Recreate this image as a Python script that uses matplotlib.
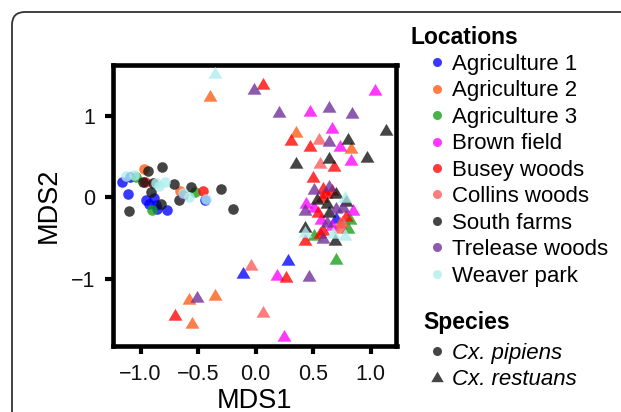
import matplotlib
matplotlib.use("Agg")
import matplotlib.pyplot as plt
from matplotlib.lines import Line2D
from matplotlib.patches import FancyBboxPatch
from matplotlib.path import Path

plt.rcParams['font.family'] = ['Liberation Sans', 'DejaVu Sans']

locations = ["Agriculture 1", "Agriculture 2", "Agriculture 3", "Brown field",
             "Busey woods", "Collins woods", "South farms", "Trelease woods", "Weaver park"]
colors = ["#0000FF", "#FF5A14", "#169E16", "#FF00FF", "#FF0000",
          "#FA5A5A", "#111111", "#6E2C96", "#AFEEEE"]
species = ["Cx. pipiens", "Cx. restuans"]

# MDS coordinates per location: pipiens (circles)
pip_x = {
    "Agriculture 1": [-1.16, -1.09, -1.11, -0.44, -0.95, -0.88, -0.93, -0.87, -0.77, -0.855],
    "Agriculture 2": [-0.97, -0.66],
    "Agriculture 3": [-1.04, -0.53, -0.90],
    "Brown field": [],
    "Busey woods": [-0.96, -0.46],
    "Collins woods": [],
    "South farms": [-0.81, -0.94, -0.98, -0.895, -0.71, -0.56, -0.91, -0.30, -0.67, -0.82, -1.10, -0.20],
    "Trelease woods": [-0.63],
    "Weaver park": [-1.13, -1.055, -0.865, -0.84, -0.79, -0.63, -0.575, -0.43],
}
pip_y = {
    "Agriculture 1": [0.19, 0.25, 0.04, -0.03, -0.03, -0.01, -0.08, -0.09, -0.15, -0.14],
    "Agriculture 2": [0.35, 0.08],
    "Agriculture 3": [0.25, 0.06, -0.15],
    "Brown field": [],
    "Busey woods": [0.19, 0.08],
    "Collins woods": [],
    "South farms": [0.37, 0.32, 0.19, 0.17, 0.16, 0.13, 0.07, 0.10, -0.03, -0.08, -0.17, -0.14],
    "Trelease woods": [0.03],
    "Weaver park": [0.26, 0.27, 0.17, 0.14, 0.19, 0.05, 0.01, -0.02],
}
# restuans (triangles)
res_x = {
    "Agriculture 1": [0.28, -0.11, 0.70],
    "Agriculture 2": [-0.40, 0.355, 0.83, -0.58, -0.35, -0.55, 0.73],
    "Agriculture 3": [0.70, 0.82, 0.80, 0.51],
    "Brown field": [1.04, 0.47, 0.66, 0.73, 0.83, 0.44, 0.51, 0.85, 0.57, 0.66, 0.19, 0.25],
    "Busey woods": [0.064, 0.305, 0.47, 0.68, 0.50, 0.59, 0.66, 0.61, 0.58, 0.54, 0.785, 0.59, 0.56, 0.43, 0.26, -0.70],
    "Collins woods": [0.55, 0.56, 0.75, 0.73, -0.04, 0.064],
    "South farms": [1.13, 0.80, 0.64, 0.965, 0.35, 0.70, 0.53, 0.62, 0.79, 0.64, 0.43, 0.69],
    "Trelease woods": [-0.015, 0.20, 0.64, 0.84, 0.64, 0.51, 0.64, 0.43, 0.76, 0.70, 0.62, 0.59, -0.51, 0.46],
    "Weaver park": [-0.355, 0.78, 0.43, 0.67, 0.78],
}
res_y = {
    "Agriculture 1": [-0.77, -0.93, -0.25],
    "Agriculture 2": [1.24, 0.80, 0.60, -1.24, -1.20, -1.54, -0.32],
    "Agriculture 3": [-0.75, -0.26, -0.37, -0.46],
    "Brown field": [1.32, 1.06, 0.85, 0.63, 0.46, -0.07, -0.12, -0.16, -0.26, -0.34, -0.95, -1.70],
    "Busey woods": [1.39, 0.70, 0.63, 0.38, 0.25, 0.11, 0.09, 0.05, 0.00, -0.18, -0.23, -0.40, -0.44, -0.52, -0.97, -1.44],
    "Collins woods": [0.71, 0.42, -0.30, -0.38, -0.83, -1.40],
    "South farms": [0.82, 0.72, 0.48, 0.49, 0.42, 0.05, -0.02, -0.07, -0.05, -0.18, -0.36, -0.52],
    "Trelease woods": [1.325, 1.04, 1.11, 1.03, 0.69, 0.10, 0.14, -0.16, -0.12, -0.13, -0.30, -0.50, -1.22, -0.96],
    "Weaver park": [1.52, 0.01, -0.42, -0.44, -0.46],
}

x_ticks = [-1.0, -0.5, 0.0, 0.5, 1.0]
x_ticklabels = ["\u22121.0", "\u22120.5", "0.0", "0.5", "1.0"]
y_ticks = [-1, 0, 1]
y_ticklabels = ["\u22121", "0", "1"]

tri = Path([(-1, -0.75), (1, -0.75), (0, 0.95), (-1, -0.75)],
           [Path.MOVETO, Path.LINETO, Path.LINETO, Path.CLOSEPOLY])

fig = plt.figure(figsize=(6.21, 4.12), dpi=100)
ax = fig.add_axes([113 / 621, 1 - 346 / 412, (396.5 - 113) / 621, (346 - 65) / 412])

ALPHA = 0.78
for loc, c in zip(locations, colors):
    ax.scatter(pip_x[loc], pip_y[loc], s=58, marker='o', color=c, alpha=ALPHA,
               linewidths=0, zorder=3)
for loc, c in zip(locations, colors):
    ax.scatter(res_x[loc], res_y[loc], s=100, marker=tri, color=c, alpha=ALPHA,
               linewidths=0, zorder=3)

ax.set_xlim(-1.24, 1.225)
ax.set_ylim(-1.82, 1.62)
ax.set_xticks(x_ticks)
ax.set_xticklabels(x_ticklabels)
ax.set_yticks(y_ticks)
ax.set_yticklabels(y_ticklabels)
for sp in ax.spines.values():
    sp.set_linewidth(3.3)
    sp.set_color("black")
ax.tick_params(axis='both', length=6, width=3.0, labelsize=15.5, color='black',
               labelcolor='#111111')
ax.tick_params(axis='x', pad=7)
ax.tick_params(axis='y', pad=7)
ax.set_xlabel("MDS1", fontsize=19.5, labelpad=2)
ax.set_ylabel("MDS2", fontsize=19.5, labelpad=6)

# legends
loc_handles = [Line2D([], [], marker='o', linestyle='none', markersize=6.5,
                      markerfacecolor=c, markeredgewidth=0, alpha=ALPHA) for c in colors]
leg1 = fig.legend(loc_handles, locations, loc='upper left',
                  bbox_to_anchor=(428 / 621, 1 - 54 / 412), frameon=False,
                  fontsize=16, handlelength=0.8, handletextpad=0.3,
                  labelspacing=0.245, borderpad=0, borderaxespad=0)
fig.text(410 / 621, 1 - 37 / 412, "Locations", fontsize=16.5, fontweight='bold',
         ha='left', va='center')

sp_handles = [Line2D([], [], marker='o', linestyle='none', markersize=6.5,
                     markerfacecolor='#111111', markeredgewidth=0, alpha=ALPHA),
              Line2D([], [], marker=tri, linestyle='none', markersize=9,
                     markerfacecolor='#111111', markeredgewidth=0, alpha=ALPHA)]
leg2 = fig.legend(sp_handles, species, loc='upper left',
                  bbox_to_anchor=(428 / 621, 1 - 343 / 412), frameon=False,
                  fontsize=16, handlelength=0.8, handletextpad=0.3,
                  labelspacing=0.22, borderpad=0, borderaxespad=0,
                  prop={'style': 'italic', 'size': 16})
fig.text(423 / 621, 1 - 322 / 412, "Species", fontsize=16.5, fontweight='bold',
         ha='left', va='center')

# outer rounded panel frame
frame = FancyBboxPatch((0.12, -1.0), 10, 4.0 + 1.0, boxstyle="round,pad=0,rounding_size=0.13",
                       transform=fig.dpi_scale_trans, facecolor='none',
                       edgecolor='#333333', linewidth=1.3)
fig.patches.append(frame)

fig.savefig("out.png", dpi=100)
